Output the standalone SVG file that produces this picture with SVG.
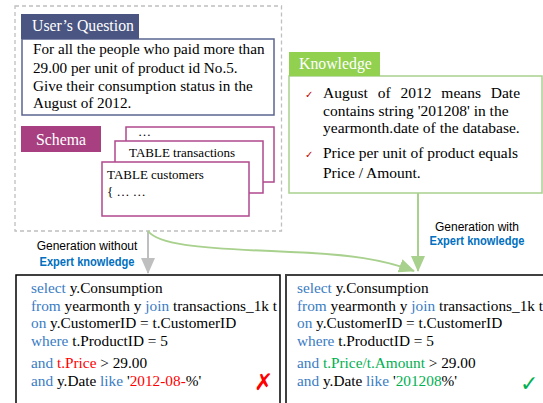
<svg xmlns="http://www.w3.org/2000/svg" width="543" height="403" viewBox="0 0 543 403">
<style>
.t{font-family:"Liberation Serif","Times New Roman",serif;font-size:15.2px;fill:#000;}
.k{font-family:"Liberation Serif","Times New Roman",serif;font-size:15.5px;fill:#000;}
.tb{font-family:"Liberation Serif","Times New Roman",serif;font-size:13px;fill:#000;}
.code{font-family:"Liberation Serif","Times New Roman",serif;font-size:15.3px;fill:#000;}
.kw{fill:#3a7cc3;}
.red{fill:#ff0000;}
.grn{fill:#00b050;}
.hdr{font-family:"Liberation Serif","Times New Roman",serif;font-size:15.8px;fill:#fff;}
.lab{font-family:"Liberation Sans",Arial,sans-serif;font-size:12px;fill:#000;text-anchor:middle;}
.exp{font-weight:bold;fill:#0070c0;}
.card{fill:#fff;stroke:#b0488f;stroke-width:1.5;}
.chk{font-family:"DejaVu Sans",sans-serif;font-size:10px;fill:#c00000;}
</style>
<defs>
<marker id="ag" viewBox="0 0 16 14" refX="15" refY="7" markerWidth="16" markerHeight="14" markerUnits="userSpaceOnUse" orient="auto">
<path d="M0,0 L16,7 L0,14 Z" fill="#a9d18e"/>
</marker>
<marker id="agr" viewBox="0 0 16 14" refX="15" refY="7" markerWidth="16" markerHeight="14" markerUnits="userSpaceOnUse" orient="auto">
<path d="M0,0 L16,7 L0,14 Z" fill="#bfbfbf"/>
</marker>
</defs>
<rect width="543" height="403" fill="#fff"/>

<g id="input-frame">
<rect x="15" y="6" width="266.5" height="225" fill="none" stroke="#bfbfbf" stroke-width="1.3" stroke-dasharray="4,3"/>
</g>

<g id="user-question">
<rect x="22" y="39" width="252" height="76" fill="#fff" stroke="#5b6591" stroke-width="1.5"/>
<rect x="21" y="14" width="118" height="25" fill="#4a5581"/>
<text class="hdr" x="32" y="31">User’s Question</text>
<text class="t" x="33" y="54">For all the people who paid more than</text>
<text class="t" x="33" y="72.5">29.00 per unit of product id No.5.</text>
<text class="t" x="33" y="90.5">Give their consumption status in the</text>
<text class="t" x="33" y="108">August of 2012.</text>
</g>

<g id="schema">
<rect x="21" y="126" width="80" height="26" fill="#a83f80"/>
<text class="hdr" x="61" y="145" text-anchor="middle">Schema</text>
<rect class="card" x="126" y="127" width="148" height="55"/>
<text class="tb" x="138" y="136">…</text>
<rect class="card" x="115" y="141" width="148" height="52"/>
<text class="tb" x="129" y="157">TABLE transactions</text>
<rect class="card" x="102" y="162" width="147" height="54"/>
<text class="tb" x="107" y="179">TABLE customers</text>
<text class="tb" x="107" y="196">{ … …</text>
</g>

<g id="knowledge">
<rect x="289" y="76" width="253" height="117" fill="#fff" stroke="#a9d18e" stroke-width="1.5"/>
<rect x="289" y="52" width="91" height="24" fill="#92d050"/>
<text class="hdr" x="299" y="69">Knowledge</text>
<text class="chk" x="305" y="98">✓</text>
<text class="k" x="323" y="98" word-spacing="6">August of 2012 means Date</text>
<text class="k" x="323" y="115.5">contains string '201208' in the</text>
<text class="k" x="323" y="133">yearmonth.date of the database.</text>
<text class="chk" x="305" y="158">✓</text>
<text class="k" x="323" y="158">Price per unit of product equals</text>
<text class="k" x="323" y="178">Price / Amount.</text>
</g>

<g id="connectors">
<line x1="148" y1="231" x2="148" y2="273" stroke="#bfbfbf" stroke-width="2" marker-end="url(#agr)"/>
<line x1="418" y1="193" x2="418" y2="271" stroke="#a9d18e" stroke-width="2" marker-end="url(#ag)"/>
<path d="M148,231 C158,244 190,248 290,252 C350,254 385,260 414,271" fill="none" stroke="#a9d18e" stroke-width="2" marker-end="url(#ag)"/>
</g>

<g id="labels">
<text class="lab" x="87" y="250">Generation without</text>
<text class="lab exp" x="87" y="266" textLength="95" lengthAdjust="spacingAndGlyphs">Expert knowledge</text>
<text class="lab" x="477" y="231">Generation with</text>
<text class="lab exp" x="477" y="245" textLength="95" lengthAdjust="spacingAndGlyphs">Expert knowledge</text>
</g>

<g id="sql-without">
<rect x="16" y="275" width="264" height="140" fill="#fff" stroke="#000" stroke-width="1.5"/>
<text class="code" x="31" y="293"><tspan class="kw">select</tspan> y.Consumption</text>
<text class="code" x="31" y="311"><tspan class="kw">from</tspan> yearmonth y <tspan class="kw">join</tspan> transactions_1k t</text>
<text class="code" x="31" y="328"><tspan class="kw">on</tspan> y.CustomerID = t.CustomerID</text>
<text class="code" x="31" y="346"><tspan class="kw">where</tspan> t.ProductID = 5</text>
<text class="code" x="31" y="368"><tspan class="kw">and</tspan> <tspan class="red">t.Price</tspan> &gt; 29.00</text>
<text class="code" x="31" y="386"><tspan class="kw">and</tspan> y.Date <tspan class="kw">like</tspan> '<tspan class="red">2012-08-</tspan>%'</text>
<text x="254" y="390" font-family="DejaVu Sans,sans-serif" font-size="23" fill="#ff0000">✗</text>
</g>

<g id="sql-with">
<rect x="286" y="275" width="264" height="140" fill="#fff" stroke="#404040" stroke-width="2"/>
<text class="code" x="297" y="293"><tspan class="kw">select</tspan> y.Consumption</text>
<text class="code" x="297" y="311"><tspan class="kw">from</tspan> yearmonth y <tspan class="kw">join</tspan> transactions_1k t</text>
<text class="code" x="297" y="328"><tspan class="kw">on</tspan> y.CustomerID = t.CustomerID</text>
<text class="code" x="297" y="346"><tspan class="kw">where</tspan> t.ProductID = 5</text>
<text class="code" x="297" y="368"><tspan class="kw">and</tspan> <tspan class="grn">t.Price/t.Amount</tspan> &gt; 29.00</text>
<text class="code" x="297" y="386"><tspan class="kw">and</tspan> y.Date <tspan class="kw">like</tspan> '<tspan class="grn">201208</tspan>%'</text>
<text x="520" y="391" font-family="DejaVu Sans,sans-serif" font-size="22" fill="#00b050">✓</text>
</g>
</svg>
